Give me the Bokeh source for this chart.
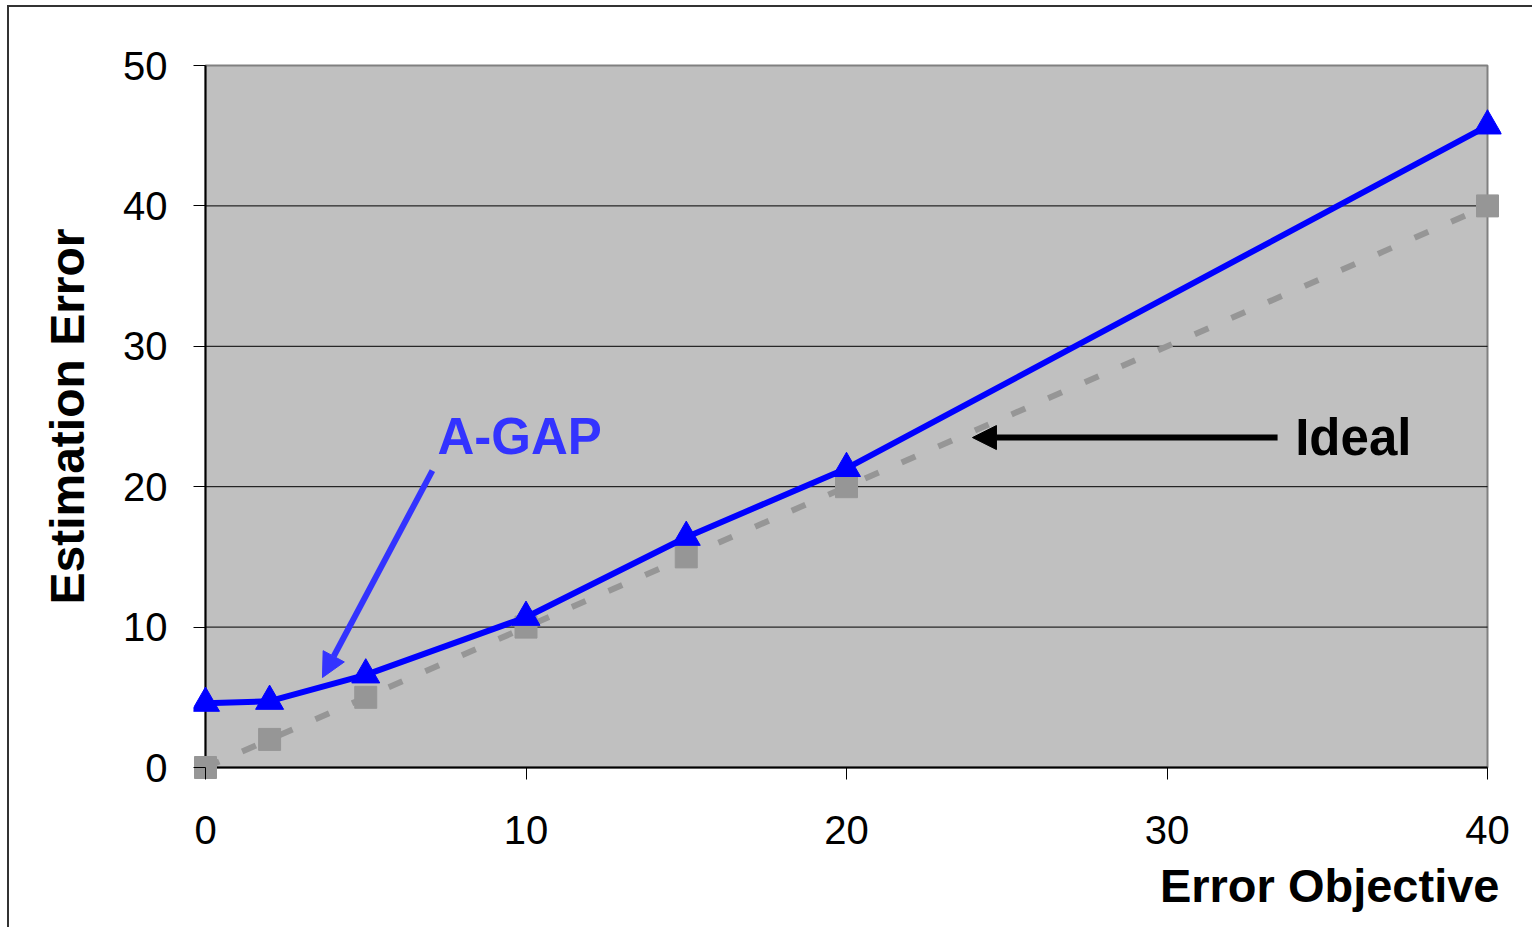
from bokeh.plotting import figure
from bokeh.models import (Range1d, FixedTicker, Label, Arrow, NormalHead, Title,
                          InlineStyleSheet)
from bokeh.embed import file_html
from bokeh.resources import INLINE

# ---- data ----
x_objective = [0, 2, 5, 10, 15, 20, 40]
agap_error = [4.58, 4.72, 6.6, 10.7, 16.4, 21.3, 45.7]
ideal_error = [0, 2, 5, 10, 15, 20, 40]
x_ticks = [0, 10, 20, 30, 40]
y_ticks = [0, 10, 20, 30, 40, 50]
grid_ticks = [10, 20, 30, 40]

# ---- layout (pixels) ----
PLOT_W, PLOT_H = 1282, 702
X0, X1 = x_ticks[0], x_ticks[-1]
Y0, Y1 = y_ticks[0], y_ticks[-1]
pxx = PLOT_W / (X1 - X0)
pxy = PLOT_H / (Y1 - Y0)
padL, padR, padB, padT = 12, 14, 12, 12

FONT = "Liberation Sans"

p = figure(frame_width=PLOT_W + padL + padR, frame_height=PLOT_H + padB + padT,
           x_range=Range1d(X0 - padL / pxx, X1 + padR / pxx),
           y_range=Range1d(Y0 - padB / pxy, Y1 + padT / pxy),
           output_backend="svg", toolbar_location=None,
           min_border_left=205 - padL, min_border_right=45 - padR,
           min_border_top=65 - padT, min_border_bottom=927 - 767 - padB)
p.background_fill_color = "white"
p.border_fill_color = "white"
p.outline_line_color = None
p.xgrid.visible = False
p.ygrid.visible = False

# gray plot area with grey top/right border
p.quad(left=[X0], right=[X1], bottom=[Y0], top=[Y1], fill_color="#C0C0C0",
       line_color="#808080", line_width=2)
# horizontal grid lines
p.segment(x0=[X0] * len(grid_ticks), x1=[X1] * len(grid_ticks),
          y0=grid_ticks, y1=grid_ticks, line_color="black", line_width=1)
# axis lines (left & bottom, black)
p.segment(x0=[X0, X0], y0=[Y0, Y0], x1=[X0, X1], y1=[Y1, Y0],
          line_color="black", line_width=2)

# axes (labels & tick marks; lines hidden since the frame is padded)
for ax, ticks in ((p.xaxis, x_ticks), (p.yaxis, y_ticks)):
    ax.ticker = FixedTicker(ticks=ticks)
    ax.axis_line_color = None
    ax.major_tick_line_color = "black"
    ax.major_tick_line_width = 1
    ax.major_tick_in = 12
    ax.major_tick_out = 0
    ax.minor_tick_line_color = None
    ax.major_label_text_font = FONT
    ax.major_label_text_font_size = "40px"
    ax.major_label_text_color = "black"

# the y-axis sits at the padded frame edge; hide the tick drawn above the box
p.xaxis.major_label_standoff = 36
p.yaxis.major_label_standoff = 26
p.yaxis.axis_label = "Estimation Error"
p.yaxis.axis_label_text_font = FONT
p.yaxis.axis_label_text_font_style = "bold"
p.yaxis.axis_label_text_font_size = "48px"
p.yaxis.axis_label_text_color = "black"
p.yaxis.axis_label_standoff = 26

p.add_layout(Title(text="Error Objective", align="right", text_font=FONT,
                   text_font_style="bold", text_font_size="47px",
                   text_color="black", standoff=21, offset=2), "below")

# series
p.line(x_objective, ideal_error, line_color="#969696", line_width=6, line_dash="15 25")
p.scatter(x_objective, ideal_error, marker="square", size=22, fill_color="#969696",
          line_color="#969696")
p.line(x_objective, agap_error, line_color="#0000FF", line_width=6)
p.scatter(x_objective, agap_error, marker="triangle", size=28, fill_color="#0000FF",
          line_color="#0000FF")

# annotations
p.add_layout(Label(x=7.24, y=23.6, text="A-GAP", text_align="left", text_baseline="middle",
                   text_font=FONT, text_font_style="bold", text_font_size="51px",
                   text_color="#3333FF"))
p.add_layout(Label(x=34.0, y=23.5, text="Ideal", text_align="left", text_baseline="middle",
                   text_font=FONT, text_font_style="bold", text_font_size="51px",
                   text_color="black"))
p.add_layout(Arrow(x_start=33.45, y_start=23.5, x_end=23.93, y_end=23.5,
                   line_color="black", line_width=6,
                   end=NormalHead(size=24, fill_color="black", line_color="black")))
p.add_layout(Arrow(x_start=7.08, y_start=21.15, x_end=3.65, y_end=6.41,
                   line_color="#3333FF", line_width=6,
                   end=NormalHead(size=24, fill_color="#3333FF", line_color="#3333FF")))

# outer frame border (top & left visible in the window)
p.stylesheets = [InlineStyleSheet(css=(
    ":host { position: relative; }"
    ":host::after { content: ''; position: absolute; left: 7px; top: 5px; right: 0; bottom: 0;"
    " border-left: 2px solid #333333; border-top: 2px solid #333333;"
    " pointer-events: none; z-index: 10; }"))]

open("out.html", "w").write(file_html(p, INLINE))
